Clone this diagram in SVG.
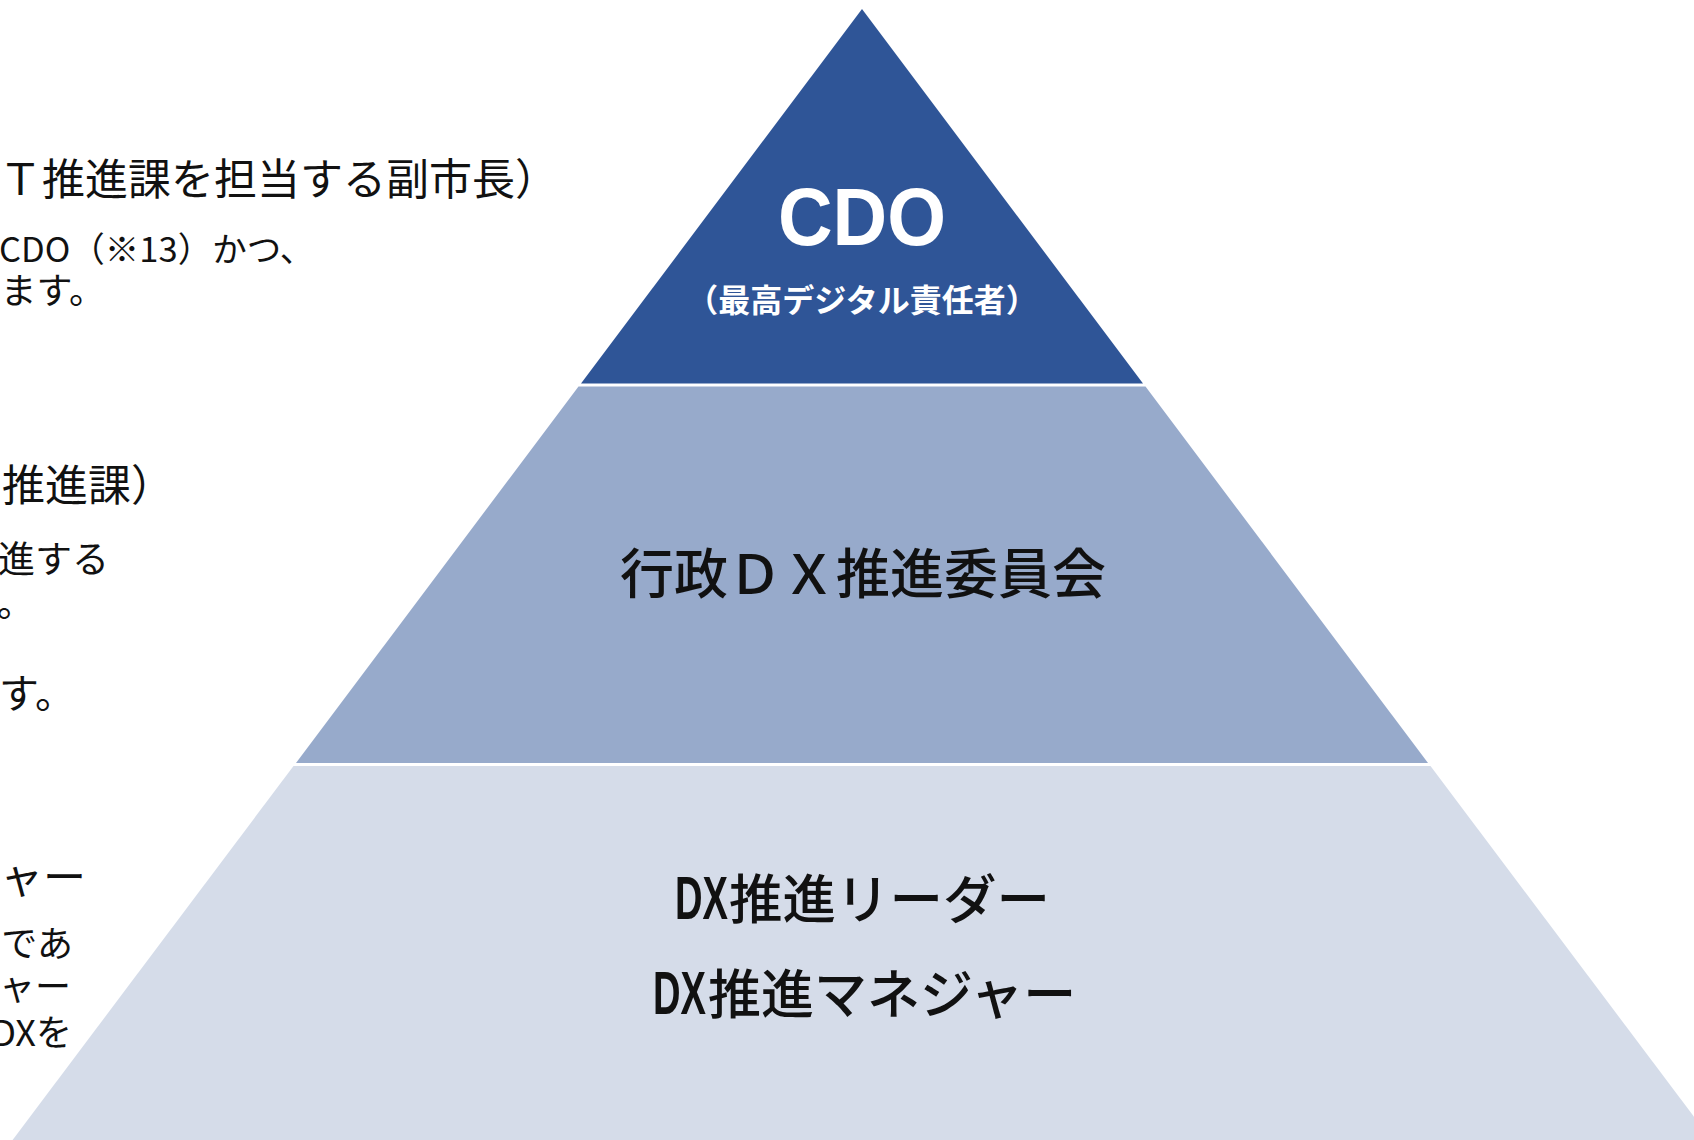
<svg xmlns="http://www.w3.org/2000/svg" width="1694" height="1140" viewBox="0 0 1694 1140">
<style>
.jp{font-family:"Noto Sans CJK JP","Noto Sans CJK SC",sans-serif;fill:#111}
.head{font-size:43px}
.body{font-size:36px}
.lbl{font-family:"Noto Sans CJK JP","Noto Sans CJK SC",sans-serif;font-weight:500;fill:#111}
.lat{font-family:"Liberation Sans",Arial,sans-serif;font-weight:700;font-size:62px}
</style>
<rect width="1694" height="1140" fill="#ffffff"/>
<g id="notes">
<text class="jp head" x="-1" y="195">Ｔ推進課を担当する副市長）</text>
<text class="jp" x="-1" y="262" font-size="34.5">CDO（※13）かつ、</text>
<text class="jp" x="105" y="304" font-size="36" text-anchor="end">ます。</text>
<text class="jp head" x="174" y="501" text-anchor="end">推進課）</text>
<text class="jp" x="109" y="573" font-size="37" text-anchor="end">進する</text>
<text class="jp" x="34" y="617" font-size="37" text-anchor="end">。</text>
<text class="jp" x="75" y="708" font-size="40" text-anchor="end">す。</text>
<text class="jp head" x="86" y="893" text-anchor="end">ャー</text>
<text class="jp body" x="73" y="957" text-anchor="end">であ</text>
<text class="jp body" x="71" y="1000" text-anchor="end">ャー</text>
<text class="jp body" x="72" y="1046" text-anchor="end">DXを</text>
</g>
<g id="node-cdo">
<polygon points="862,9 1143,383.5 581,383.5" fill="#2F5597"/>
<text x="862" y="245" font-family="Liberation Sans, Arial, sans-serif" font-weight="700" font-size="82" fill="#ffffff" text-anchor="middle" textLength="168" lengthAdjust="spacingAndGlyphs">CDO</text>
<text x="862" y="312" font-family="Noto Sans CJK JP, Noto Sans CJK SC, sans-serif" font-weight="700" font-size="32" fill="#ffffff" text-anchor="middle">（最高デジタル責任者）</text>
</g>
<g id="node-committee">
<polygon points="578.5,386.5 1145.5,386.5 1428,763 296,763" fill="#97AACB"/>
<text class="lbl" x="863" y="594" font-size="54" text-anchor="middle">行政ＤＸ推進委員会</text>
</g>
<g id="node-leaders">
<polygon points="293.5,766 1430.5,766 1711.4,1140 12.6,1140" fill="#D5DCE9"/>
<text class="lbl" x="675" y="919" font-size="53.5"><tspan class="lat" textLength="53" lengthAdjust="spacingAndGlyphs">DX</tspan><tspan x="729">推進リーダー</tspan></text>
<text class="lbl" x="653" y="1014" font-size="53"><tspan class="lat" textLength="53" lengthAdjust="spacingAndGlyphs">DX</tspan><tspan x="708">推進マネジャー</tspan></text>
</g>
<g id="connectors"/>
</svg>
